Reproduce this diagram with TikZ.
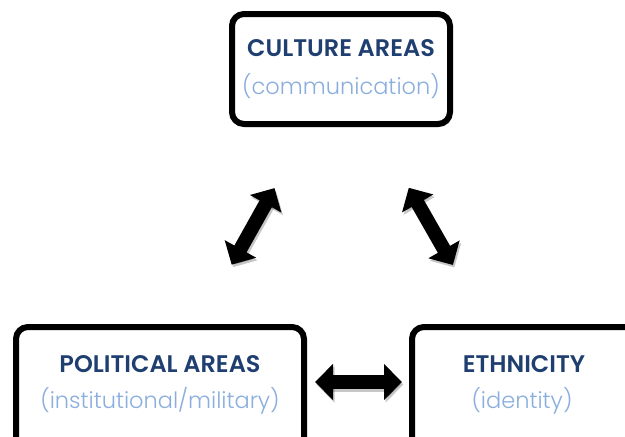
\documentclass[tikz,border=0pt]{standalone}
\usepackage{fontspec}
\setmainfont{Poppins}[UprightFont=*-Regular, BoldFont=*-SemiBold]
\newfontfamily\lightfont{Poppins}[UprightFont=*-Light]
\usetikzlibrary{arrows.meta,shadows}
\definecolor{titleblue}{HTML}{1F3F70}
\definecolor{subblue}{HTML}{8AAEDD}
\tikzset{
  box/.style={draw=black, line width=6pt, rounded corners=12pt, fill=white,
    drop shadow={opacity=0.35, shadow xshift=2pt, shadow yshift=-3pt}},
  ttl/.style={anchor=base, inner sep=0pt, text=titleblue, font=\bfseries\fontsize{24}{28}\selectfont},
  sub/.style={anchor=base, inner sep=0pt, text=subblue, font=\lightfont\fontsize{22.5}{26}\selectfont},
  bigarrow/.style={line width=14pt, {Triangle[length=18pt,width=35pt]}-{Triangle[length=18pt,width=35pt]}},
  arrshadow/.style={bigarrow, draw=black, opacity=0.22, transform canvas={xshift=1.5pt,yshift=-2.5pt}}
}
\begin{document}
\begin{tikzpicture}[x=1pt,y=-1pt]
\useasboundingbox (0,0) rectangle (625,437);
\node[box, minimum width=218pt, minimum height=110pt] (top) at (341,69) {};
\node[box, minimum width=288pt, minimum height=132pt] (pol) at (160,393) {};
\node[box, minimum width=228pt, minimum height=132pt] (eth) at (526,393) {};
\node[ttl] (topt) at (341,56) {CULTURE AREAS};
\node[sub] (tops) at (341,94) {(communication)};
\node[ttl] (polt) at (160,372) {POLITICAL AREAS};
\node[sub] (pols) at (160,408) {(institutional/military)};
\node[ttl] (etht) at (524,372) {ETHNICITY};
\node[sub] (eths) at (522,408) {(identity)};
\draw[arrshadow, shorten <=68pt, shorten >=70pt] (pol) -- (top);
\draw[bigarrow, shorten <=68pt, shorten >=70pt] (pol) -- (top);
\draw[arrshadow, shorten <=68pt, shorten >=70pt] (eth) -- (top);
\draw[bigarrow, shorten <=68pt, shorten >=70pt] (eth) -- (top);
\draw[arrshadow, shorten <=8pt, shorten >=7pt] ([yshift=11pt]pol.east) -- ([yshift=11pt]eth.west);
\draw[bigarrow, shorten <=8pt, shorten >=7pt] ([yshift=11pt]pol.east) -- ([yshift=11pt]eth.west);
\end{tikzpicture}
\end{document}
